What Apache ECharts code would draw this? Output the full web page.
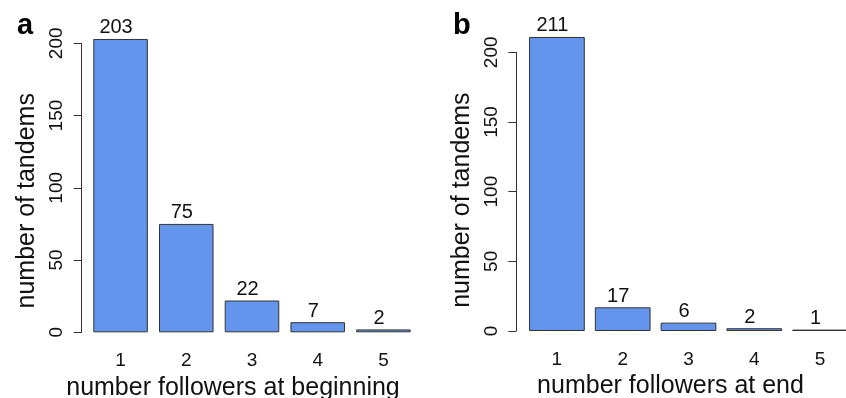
<!DOCTYPE html>
<html>
<head>
<meta charset="utf-8">
<script src="https://cdn.jsdelivr.net/npm/echarts@6/dist/echarts.min.js"></script>
<style>
html,body{margin:0;padding:0;background:#fff;}
#chart{width:846px;height:398px;}
</style>
</head>
<body>
<div id="chart"></div>
<script>
var categories = ['1', '2', '3', '4', '5'];
var beginningCounts = [203, 75, 22, 7, 2];
var endCounts = [211, 17, 6, 2, 1];
var yTicks = [0, 50, 100, 150, 200];
var panelLetters = ['a', 'b'];
var xTitles = ['number followers at beginning', 'number followers at end'];
var yTitle = 'number of tandems';

var FONT = '"Liberation Sans", Arial, sans-serif';
var TXT = '#111';
var LINE = '#333';
var FILL = '#6495ED';

function yAxisFor(gridIndex, offset, namePad) {
  return {
    type: 'value', gridIndex: gridIndex, min: yTicks[0], max: yTicks[yTicks.length - 1],
    interval: yTicks[1] - yTicks[0], offset: offset,
    splitLine: {show: false},
    axisLine: {show: true, lineStyle: {color: LINE, width: 1}},
    axisTick: {show: true, length: 8, lineStyle: {color: LINE, width: 1}},
    axisLabel: {rotate: 90, margin: 15, fontSize: 19, color: TXT, fontFamily: FONT},
    name: yTitle, nameLocation: 'middle', nameGap: 42, nameRotate: 90,
    nameTextStyle: {fontSize: 25, color: TXT, fontFamily: FONT, padding: namePad}
  };
}
function xAxisFor(gridIndex, title, namePad, gap) {
  return {
    type: 'category', gridIndex: gridIndex, data: categories,
    axisLine: {show: false}, axisTick: {show: false},
    axisLabel: {margin: 19, fontSize: 19, color: TXT, fontFamily: FONT},
    name: title, nameLocation: 'middle', nameGap: gap,
    nameTextStyle: {fontSize: 25, color: TXT, fontFamily: FONT, padding: namePad}
  };
}
function barSeries(idx, data, gap) {
  return {
    type: 'bar', xAxisIndex: idx, yAxisIndex: idx, data: data, clip: false,
    barCategoryGap: gap,
    itemStyle: {color: FILL, borderColor: LINE, borderWidth: 1},
    label: {show: true, position: 'top', distance: 1, offset: [-4.5, 0],
      fontSize: 20, color: TXT, fontFamily: FONT},
    silent: true, animation: false
  };
}

var chart = echarts.init(document.getElementById('chart'), null, {renderer: 'canvas'});
chart.setOption({
  backgroundColor: '#fff',
  animation: false,
  grid: [
    {left: 87.7, top: 43.3, width: 328.6, height: 289, outerBoundsMode: 'none', containLabel: false},
    {left: 524, top: 52.3, width: 329, height: 278.7, outerBoundsMode: 'none', containLabel: false}
  ],
  xAxis: [xAxisFor(0, xTitles[0], [0, 38, 0, 0], 41), xAxisFor(1, xTitles[1], [0, 36, 0, 0], 42)],
  yAxis: [yAxisFor(0, 6, [0, 26, 0, 0]), yAxisFor(1, 7.7, [0, 17, 0, 0])],
  series: [barSeries(0, beginningCounts, '17%'), barSeries(1, endCounts, '15.3%')],
  graphic: [
    {type: 'text', left: 17, top: 11, style: {text: panelLetters[0], font: 'bold 29px ' + FONT, fill: '#000'}},
    {type: 'text', left: 453, top: 11, style: {text: panelLetters[1], font: 'bold 29px ' + FONT, fill: '#000'}}
  ]
});
</script>
</body>
</html>
